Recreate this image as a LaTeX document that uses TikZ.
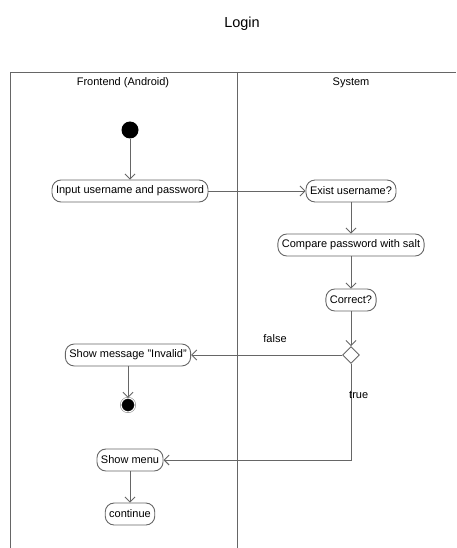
\documentclass[tikz,border=0pt]{standalone}
\usepackage{fontspec}
\setmainfont{Liberation Sans}
\usetikzlibrary{arrows.meta,shapes.geometric}

\begin{document}
\begin{tikzpicture}[x=1pt,y=-1pt,font=\fontsize{11}{13}\selectfont]
	\tikzset{line/.style={draw=black!60,line width=0.9pt}}
	\tikzset{act/.style={line,rounded corners=9pt,minimum height=22pt,inner xsep=4pt,fill=white}}
	\tikzset{flow/.style={line,-{Straight Barb[length=5pt,width=10pt]}}}
	\tikzset{dec/.style={line,diamond,minimum width=17pt,minimum height=17pt,inner sep=0pt,fill=white}}

	\useasboundingbox (0,0) rectangle (456,548);

	\node (title) at (242,24) {\fontsize{14.5}{16}\selectfont Login};

	% lanes
	\draw[line] (10,548) -- (10,72) -- (456,72);
	\draw[line] (237,72) -- (237,548);
	\node (lane1) at (123,83) {Frontend (Android)};
	\node (lane2) at (351,83) {System};

	\node[circle,fill=black,minimum size=17pt,inner sep=0pt] (start) at (130,130) {};
	\node[act] (input) at (130,191) {Input username and password};
	\node[act] (exist) at (351,191) {Exist username?};
	\node[act] (cmp) at (351,245) {Compare password with salt};
	\node[act] (ok) at (351,300) {Correct?};
	\node[dec] (choice) at (351,355) {};
	\node[act] (invalid) at (128,355) {Show message "Invalid"};
	\node[circle,fill=black,draw=black!60,double=white,double distance=1pt,minimum size=14pt,inner sep=0pt] (stop) at (128,405) {};
	\node[act] (menu) at (130,460) {Show menu};
	\node[act] (cont) at (130,514) {continue};

	\draw[flow] (start) -- (input);
	\draw[flow] (input) -- (exist);
	\draw[flow] (exist) -- (cmp);
	\draw[flow] (cmp) -- (ok);
	\draw[flow] (ok) -- (choice);
	\draw[flow] (choice) -- (invalid);
	\node (lfalse) at (275,339) {false};
	\draw[flow] (invalid) -- (stop);
	\draw[flow] (choice) |- (menu);
	\node[anchor=west,inner sep=0pt] (ltrue) at (349,395) {true};
	\draw[flow] (menu) -- (cont);
\end{tikzpicture}
\end{document}
